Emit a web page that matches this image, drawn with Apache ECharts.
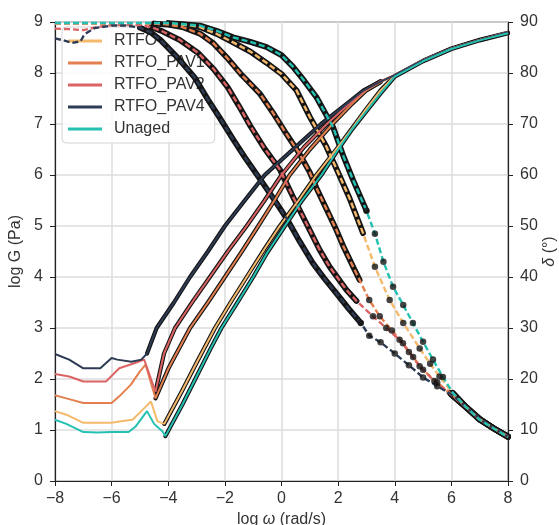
<!DOCTYPE html>
<html><head><meta charset="utf-8">
<script src="https://cdn.jsdelivr.net/npm/echarts@6/dist/echarts.min.js"></script>
<style>html,body{margin:0;padding:0;background:#fff}#c{width:559px;height:525px}</style>
</head><body><div id="c"></div>
<script>
const samples = ['RTFO', 'RTFO_PAV1', 'RTFO_PAV2', 'RTFO_PAV4', 'Unaged'];
const colors = ['#f5b96c', '#e4804f', '#dc6363', '#2d3c54', '#24c1b2'];

// log G (Pa) vs log ω (rad/s)
const gRTFO = [[-8,1.37],[-7.6,1.30],[-7,1.14],[-6,1.14],[-5.67,1.17],[-5.26,1.20],[-4.9,1.40],[-4.61,1.56],[-4.38,1.17],[-4.14,1.12],
  [-3.5,1.78],[-3,2.32],[-2.35,3.0],[-1.8,3.5],[-1.23,4.0],[-0.6,4.55],[-0.06,5.0],[0.6,5.5],[1.23,6.0],[2,6.55],[2.5,6.92],[3,7.3],[3.5,7.66],
  [4,7.94],[5,8.24],[6,8.48],[7,8.65],[8,8.79]];
const gPAV1 = [[-8,1.68],[-7.6,1.62],[-7,1.53],[-6,1.53],[-5.73,1.66],[-5.32,1.89],[-5.0,2.15],[-4.8,2.28],[-4.45,1.62],
  [-4.0,2.2],[-3.23,3.0],[-2.6,3.5],[-2.0,4.0],[-1.4,4.5],[-0.82,5.0],[-0.25,5.5],[0.29,6.0],[1.0,6.5],[1.8,7.0],[2.5,7.4],[3,7.66],[3.5,7.82],
  [4,7.95],[5,8.25],[6,8.48],[7,8.65],[8,8.8]];
const gPAV2 = [[-8,2.10],[-7.5,2.05],[-7,1.95],[-6.2,1.95],[-5.73,2.21],[-5.2,2.31],[-4.85,2.38],[-4.45,1.75],
  [-4.15,2.5],[-3.76,3.0],[-3.1,3.55],[-2.53,4.0],[-1.9,4.5],[-1.23,5.0],[-0.6,5.5],[0,6.0],[0.8,6.55],[1.6,7.0],[2.3,7.35],[3,7.68],[3.5,7.84],
  [4,7.96],[5,8.25],[6,8.48],[7,8.65],[8,8.8]];
const gPAV4 = [[-8,2.49],[-7.5,2.38],[-7,2.21],[-6.4,2.21],[-6.0,2.41],[-5.8,2.38],[-5.3,2.34],[-4.95,2.38],[-4.75,2.5],
  [-4.41,3.0],[-3.8,3.5],[-3.23,4.0],[-2.6,4.5],[-2.0,5.0],[-1.3,5.5],[-0.59,6.0],[0.4,6.5],[1.4,7.0],[2.2,7.35],[2.9,7.66],[3.5,7.83],
  [4,7.96],[5,8.25],[6,8.48],[7,8.65],[8,8.8]];
const gUnaged = [[-8,1.20],[-7.6,1.12],[-7,0.96],[-6.5,0.95],[-6,0.96],[-5.4,0.96],[-5.15,1.07],[-4.75,1.37],[-4.5,1.12],[-4.2,0.97],[-4.1,0.88],
  [-3.5,1.5],[-3,2.05],[-2.5,2.6],[-2.12,3.0],[-1.5,3.55],[-1,4.0],[-0.5,4.48],[0.12,5.0],[0.7,5.48],[1.41,6.0],[2,6.5],[2.5,6.9],[3,7.25],[3.5,7.6],
  [4,7.93],[5,8.23],[6,8.47],[7,8.64],[8,8.78]];

// phase angle δ (°) vs log ω (rad/s)
const dRTFO = [[-8,89.7],[-4,89.7],[-3.3,89.4],[-2.88,89],[-2.3,87.7],[-1.71,86],[-1.1,84.2],[-0.53,82],[0,79.8],[0.53,76.6],[1.0,71.4],[1.59,65.5],
  [2.0,60.5],[2.4,55.5],[2.88,48.6],[3.3,42],[3.82,35.5],[4.3,31],[4.88,26],[5.25,23],[5.58,20.5],[6.05,17.2],[6.5,14.6],[7,12.1],[7.5,10.3],[8,8.7]];
const dPAV1 = [[-8,89.7],[-4.5,89.7],[-4,89.5],[-3.5,89],[-2.88,87.7],[-2.4,85.8],[-1.94,83.1],[-1.4,79.6],[-0.77,76],[-0.3,72.2],[0.18,68],
  [0.6,64.5],[1.0,60.5],[1.23,57.5],[1.6,53.2],[1.94,49.2],[2.17,46.2],[2.53,42],[2.76,39.4],[3.1,35.5],[3.47,32.3],[3.9,29.5],[4.29,27],
  [4.65,24.3],[5.0,21.8],[5.5,19.3],[5.94,17.3],[6.5,14.6],[7,12.1],[7.5,10.3],[8,8.7]];
const dPAV2 = [[-8,88.7],[-7.5,88.6],[-7,88.4],[-6.5,89],[-6,89.4],[-5,89.4],[-4.6,89],[-4.26,88.3],[-3.6,86.5],[-2.96,84],[-2.4,80.8],
  [-1.9,77.2],[-1.5,73.5],[-1.1,69.6],[-0.6,65.2],[-0.05,61],[0.4,55.8],[0.88,50.5],[1.35,45.3],[1.7,42],[2.29,37.5],[2.65,35.3],[3.23,32.3],
  [3.7,30],[4.17,27.7],[4.5,25.3],[4.88,22.5],[5.4,19.6],[6,16.9],[6.5,14.5],[7,12.1],[7.5,10.3],[8,8.7]];
const dPAV4 = [[-8,86.8],[-7.7,86.4],[-7.4,85.9],[-7.1,86.2],[-6.96,87.6],[-6.6,88.8],[-6,89.3],[-5.5,89.3],[-5,88.9],[-4.6,87.9],[-4.26,86.4],
  [-3.7,83.2],[-3.08,79.2],[-2.6,74.8],[-2.18,71.2],[-1.71,67],[-1.3,63.5],[-0.77,59.3],[-0.3,55.5],[0.18,51.5],[0.65,46.9],[1.11,42.7],
  [1.5,39.8],[1.94,36.8],[2.4,33.6],[2.8,31],[3.1,28.5],[3.5,27.2],[4.0,25],[4.5,22.7],[5.0,20.3],[5.5,18.6],[6,17],[6.5,14.6],[7,12.2],[7.5,10.3],[8,8.7]];
const dUnaged = [[-8,89.8],[-4,89.8],[-3.5,89.6],[-2.88,89.3],[-2.3,88.3],[-1.71,87.0],[-1.1,86.1],[-0.53,85.1],[0,83.5],[0.41,81.2],[0.8,78.5],
  [1.23,75.3],[1.82,69.4],[2.2,63.5],[2.53,59],[3.0,53],[3.3,48.5],[3.6,43],[3.94,38.1],[4.3,34.5],[4.64,31],[5.0,27.3],[5.35,23.8],[5.7,20.4],
  [6.05,17.3],[6.5,14.6],[7.0,12],[7.5,10.3],[8,8.6]];

const gData = [gRTFO, gPAV1, gPAV2, gPAV4, gUnaged];
const dData = [dRTFO, dPAV1, dPAV2, dPAV4, dUnaged];
// measured (black-marked) ranges in log ω
const gMeasured = [[-4.14, 8], [-4.45, 3.6], [-4.45, 3.6], [-4.75, 3.5], [-4.1, 8]];
const dMeasured = [[-4.6, 3.0], [-4.6, 2.8], [-4.6, 2.7], [-5.0, 2.8], [-4.6, 3.0]];
const dDots = [[3.0, 5.9], [2.8, 5.9], [2.7, 5.9], [2.8, 5.9], [3.0, 5.9]];
const tailFrom = 5.9;

const FONT = 'Liberation Sans, Arial, sans-serif';
const inR = (arr, a, b) => arr.filter(p => p[0] >= a - 1e-9 && p[0] <= b + 1e-9);
const minus = v => (v < 0 ? '\u2212' + Math.abs(v) : String(v));
const under = (name, data, axis, w) => ({type: 'line', name, data, yAxisIndex: axis, showSymbol: false, silent: true, z: 3,
  lineStyle: {color: '#151515', width: w, cap: 'round', join: 'round'}, itemStyle: {color: '#151515'}});

const series = [];
for (let i = 0; i < 5; i++) {
  series.push(under('_ug' + i, inR(gData[i], gMeasured[i][0], gMeasured[i][1]), 0, 4.2));
  series.push(under('_ud' + i, inR(dData[i], dMeasured[i][0], dMeasured[i][1]), 1, 5.8));
  series.push(under('_ut' + i, inR(dData[i], tailFrom, 8), 1, 5.8));
}
for (let i = 0; i < 5; i++) {
  series.push({type: 'line', name: samples[i], data: gData[i], yAxisIndex: 0, showSymbol: false, z: 5,
    color: colors[i], itemStyle: {color: colors[i]}, lineStyle: {color: colors[i], width: 2}});
  series.push({type: 'line', name: samples[i] + ' δ', data: dData[i], yAxisIndex: 1, showSymbol: false, z: 5,
    color: colors[i], itemStyle: {color: colors[i]}, lineStyle: {color: colors[i], width: 2.4, type: [6, 3]}});
}
for (let i = 0; i < 5; i++) {
  series.push({type: 'scatter', name: '_dot' + i, data: inR(dData[i], dDots[i][0], dDots[i][1]), yAxisIndex: 1,
    symbolSize: 6.5, z: 6, silent: true, itemStyle: {color: '#151515'}});
}

const axisCommon = {
  axisLine: {show: true, onZero: false, lineStyle: {color: '#222', width: 1.2}},
  axisTick: {show: true, length: 5, lineStyle: {color: '#222'}}
};

const chart = echarts.init(document.getElementById('c'), null, {renderer: 'canvas'});
chart.setOption({
  animation: false,
  backgroundColor: '#fff',
  grid: {left: 55, right: 51, top: 22, bottom: 44, outerBoundsMode: 'none', containLabel: false,
    show: true, borderColor: '#222', borderWidth: 1, backgroundColor: 'transparent'},
  legend: {
    data: samples, orient: 'vertical', left: 62, top: 27, icon: 'rect', itemWidth: 34, itemHeight: 3, itemGap: 6,
    padding: [6, 10, 6, 6], backgroundColor: 'rgba(255,255,255,0.85)', borderColor: '#d4d4d4', borderWidth: 1, borderRadius: 4,
    textStyle: {fontSize: 16, color: '#333', fontFamily: FONT, padding: [0, 0, 0, 7]}, z: 1
  },
  xAxis: Object.assign({
    type: 'value', min: -8, max: 8, interval: 2,
    name: '{n|log }{w|ω}{n| (rad/s)}', nameLocation: 'middle', nameGap: 26,
    nameTextStyle: {rich: {n: {fontSize: 16, color: '#333', fontFamily: FONT}, w: {fontSize: 16, color: '#333', fontFamily: FONT, fontStyle: 'italic'}}},
    axisLabel: {fontSize: 16, color: '#333', fontFamily: FONT, margin: 10, formatter: minus},
    splitLine: {show: true, lineStyle: {color: '#dcdcdc', width: 1.5}}
  }, axisCommon),
  yAxis: [Object.assign({
    type: 'value', min: 0, max: 9, interval: 1, position: 'left',
    name: 'log G (Pa)', nameLocation: 'middle', nameRotate: 90, nameGap: 29,
    nameTextStyle: {fontSize: 16, color: '#333', fontFamily: FONT},
    axisLabel: {fontSize: 16, color: '#333', fontFamily: FONT, margin: 12},
    splitLine: {show: true, lineStyle: {color: '#dcdcdc', width: 1.5}}
  }, axisCommon), Object.assign({
    type: 'value', min: 0, max: 90, interval: 10, position: 'right',
    name: '{w|δ}{n| (°)}', nameLocation: 'middle', nameRotate: 90, nameGap: 34, nameMoveOverlap: false,
    nameTextStyle: {rich: {n: {fontSize: 16, color: '#333', fontFamily: FONT}, w: {fontSize: 16, color: '#333', fontFamily: FONT, fontStyle: 'italic'}}},
    axisLabel: {fontSize: 16, color: '#333', fontFamily: FONT, margin: 12},
    splitLine: {show: false}
  }, axisCommon)],
  series: series
});
</script>
</body></html>
